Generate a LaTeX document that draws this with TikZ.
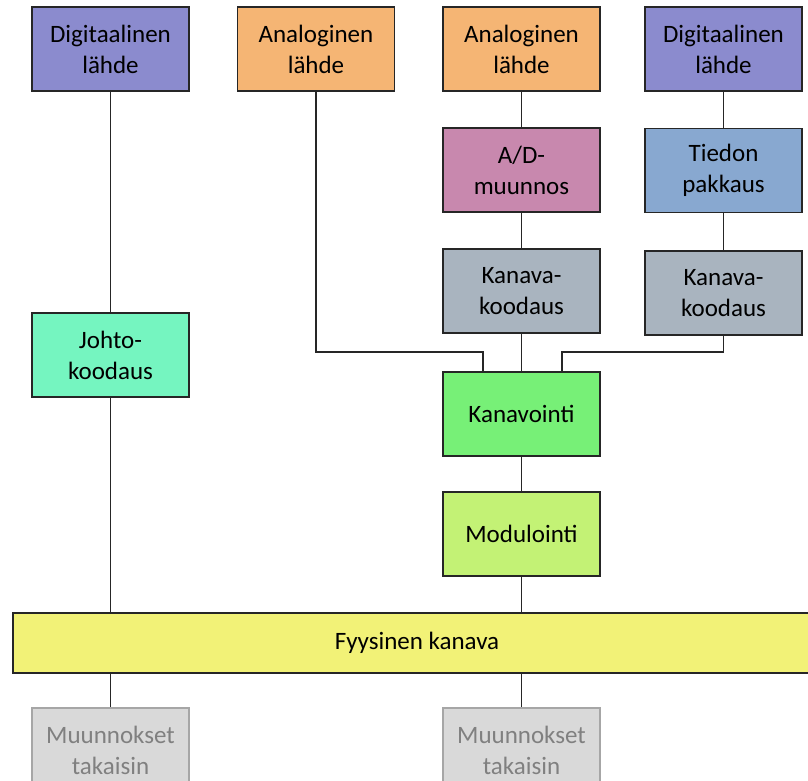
\documentclass[tikz,border=0pt]{standalone}
\usepackage{fontspec}
\setmainfont{Carlito}
\definecolor{cdig}{HTML}{8B8BCE}
\definecolor{cana}{HTML}{F5B574}
\definecolor{cad}{HTML}{C888AE}
\definecolor{ctie}{HTML}{88A8D0}
\definecolor{ckk}{HTML}{A9B4BF}
\definecolor{cjoh}{HTML}{75F5C0}
\definecolor{ckav}{HTML}{77F077}
\definecolor{cmod}{HTML}{C3F275}
\definecolor{cfys}{HTML}{F2F277}
\definecolor{cmuf}{HTML}{D9D9D9}
\definecolor{cmud}{HTML}{A6A6A6}
\definecolor{cmut}{HTML}{808080}
\definecolor{cedge}{HTML}{262626}
\begin{document}
\begin{tikzpicture}[x=1pt,y=-1pt,
  box/.style={draw=cedge,line width=1.3pt,minimum width=157pt,minimum height=84pt,
    inner sep=0pt,align=center,font=\fontsize{25}{31}\selectfont,text=black},
  ghost/.style={box,draw=cmud,fill=cmuf,text=cmut},
  wire/.style={draw=cedge,line width=1.3pt}]
\useasboundingbox (0,0) rectangle (808,780);
\clip (0,0) rectangle (808,780);
\node[box,fill=cdig] (d1) at (110.5,49) {Digitaalinen\\lähde};
\node[box,fill=cana] (a2) at (316,49) {Analoginen\\lähde};
\node[box,fill=cana] (a3) at (521.5,49) {Analoginen\\lähde};
\node[box,fill=cdig] (d4) at (723.5,49) {Digitaalinen\\lähde};
\node[box,fill=cad] (ad) at (521.5,170) {A/D-\\muunnos};
\node[box,fill=ctie] (tp) at (723.5,170.5) {Tiedon\\pakkaus};
\node[box,fill=ckk] (kk1) at (521.5,291) {Kanava-\\koodaus};
\node[box,fill=ckk] (kk2) at (723.5,293) {Kanava-\\koodaus};
\node[box,fill=cjoh] (jk) at (110.5,355) {Johto-\\koodaus};
\node[box,fill=ckav] (kv) at (521.5,414) {Kanavointi};
\node[box,fill=cmod] (mo) at (521.5,534) {Modulointi};
\node[box,fill=cfys,minimum width=808pt,minimum height=60pt] (fk) at (417,643) {Fyysinen kanava};
\node[ghost] (m1) at (110.5,750) {Muunnokset\\takaisin};
\node[ghost] (m2) at (521.5,750) {Muunnokset\\takaisin};
\coordinate (jl) at (483,352);
\coordinate (jr) at (562,352);
\draw[wire] (d1) -- (jk);
\draw[wire] (jk) -- (fk.north -| jk.south);
\draw[wire] (a3) -- (ad);
\draw[wire] (ad) -- (kk1);
\draw[wire] (kk1) -- (kv);
\draw[wire] (kv) -- (mo);
\draw[wire] (mo) -- (fk.north -| mo.south);
\draw[wire] (d4) -- (tp);
\draw[wire] (tp) -- (kk2);
\draw[wire] (a2.south) |- (jl) -- (kv.north -| jl);
\draw[wire] (kk2.south) |- (jr) -- (kv.north -| jr);
\draw[wire] (fk.south -| m1.north) -- (m1);
\draw[wire] (fk.south -| m2.north) -- (m2);
\end{tikzpicture}
\end{document}
